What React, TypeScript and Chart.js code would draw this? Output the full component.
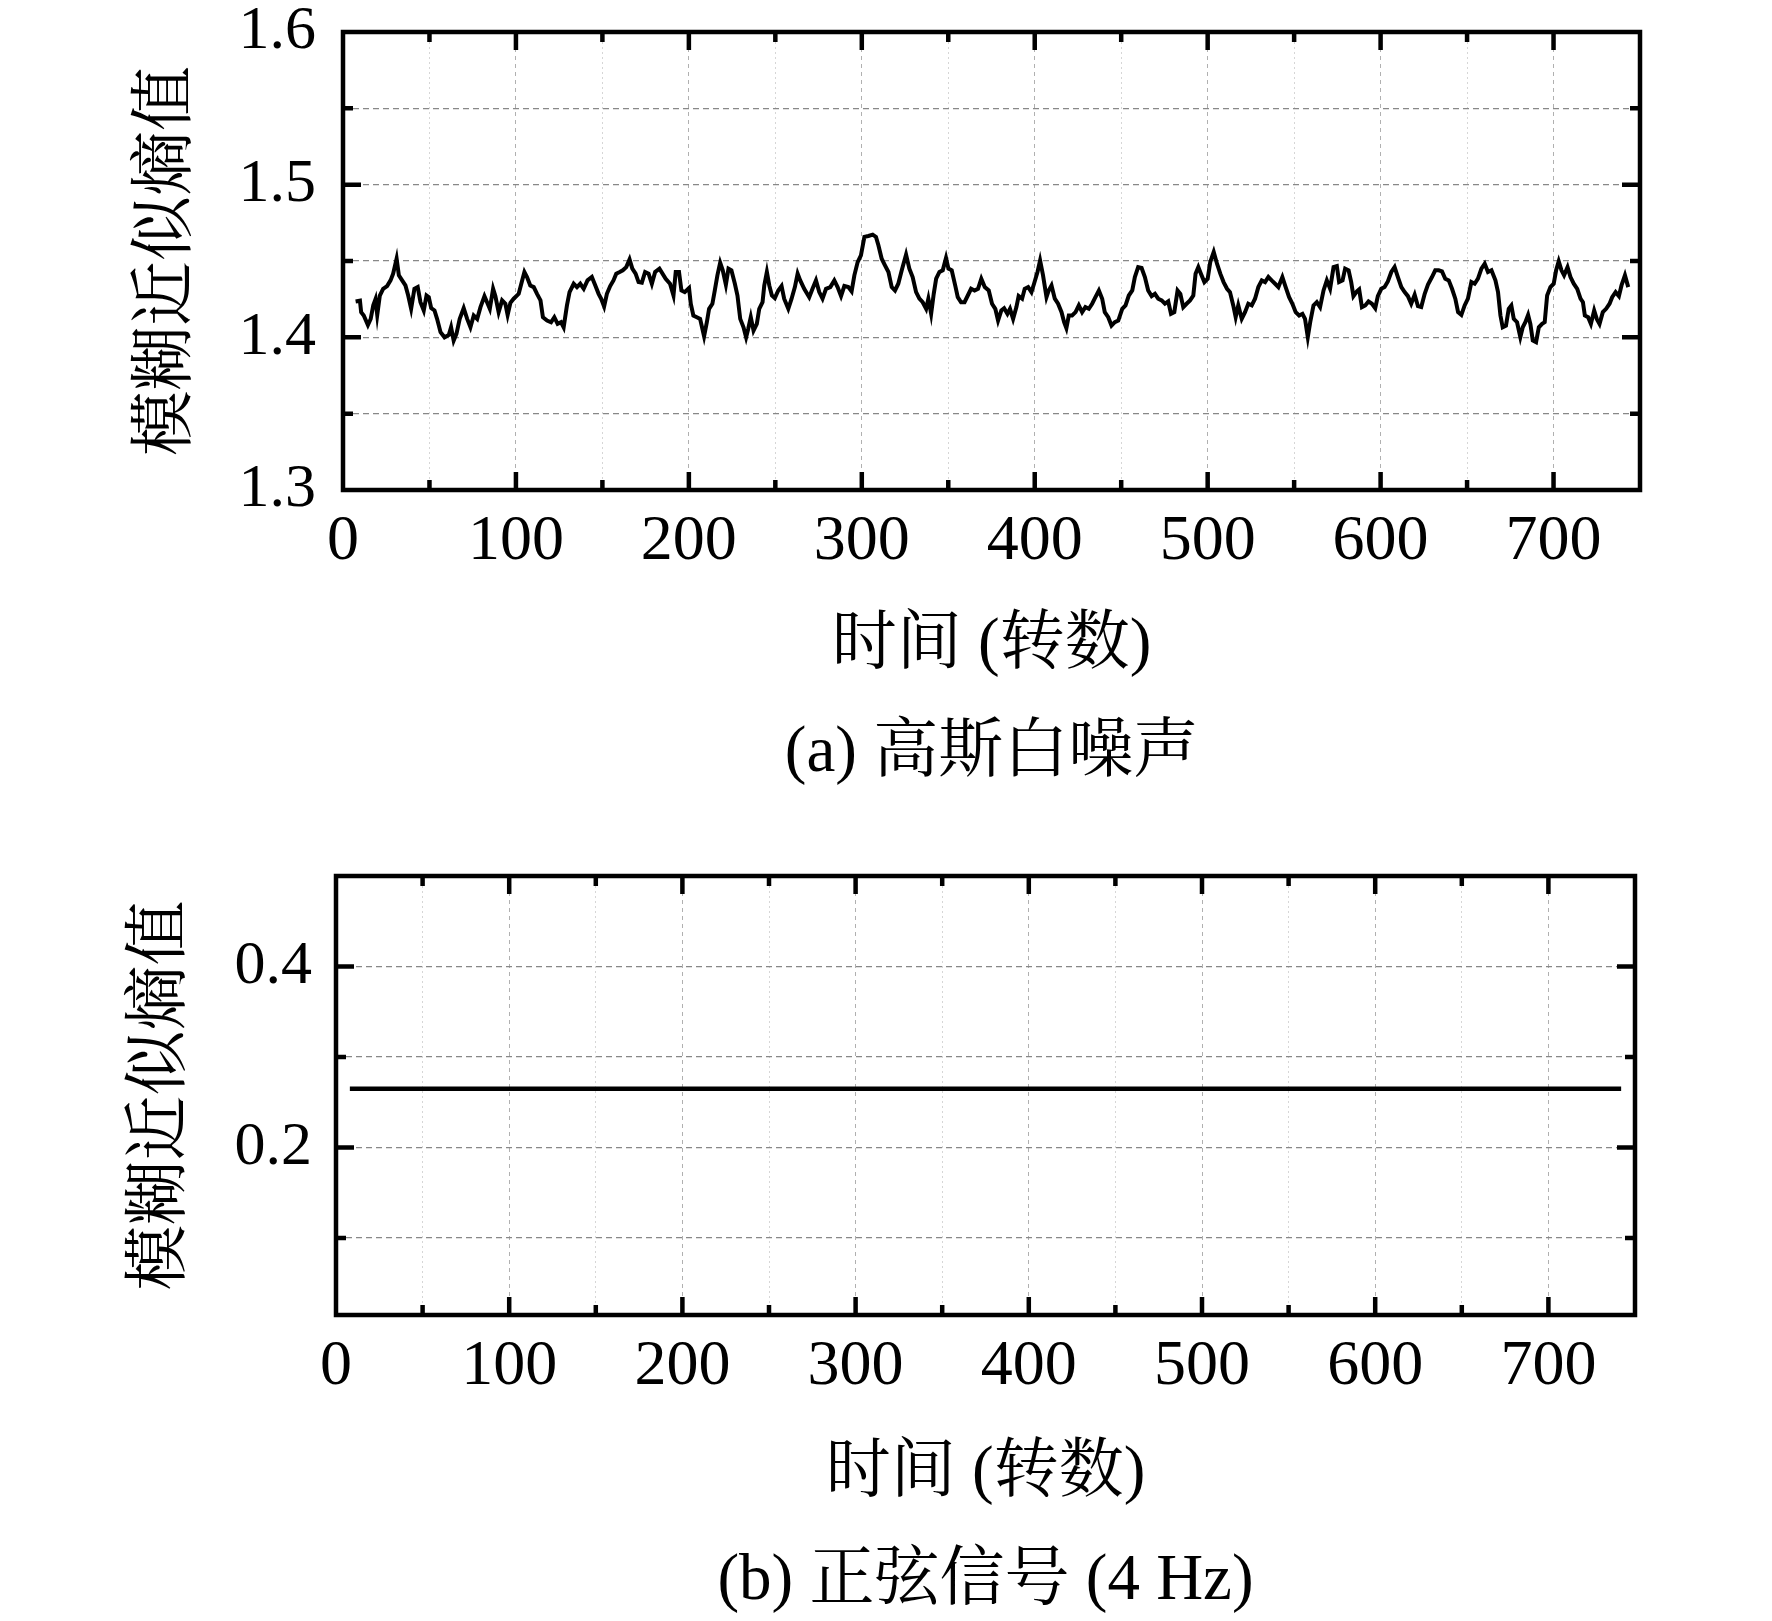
import React, { useEffect, useRef } from 'react';
import { Chart, registerables, ChartConfiguration } from 'chart.js';

Chart.register(...registerables);

const SERIF = '"Liberation Serif", "Times New Roman", "Noto Serif CJK SC", "Noto Sans CJK SC", serif';
const WIDTH = 1772;
const TICK_SIZE_X = 64;
const TICK_SIZE_Y = 62;
const TITLE_SIZE = 65;
const AXIS_H = 200;

// (a) 高斯白噪声 - time (revolutions) / fuzzy approximate entropy
const timeA = [
  7.3, 9.8, 10.5, 12, 14.4, 16, 17.5, 18.8, 19.8, 21.3, 23.2, 25.5, 27.5, 29, 31, 32.3, 34.2, 36.1, 37.7, 39.4,
  41.3, 43.2, 44.8, 46.7, 48.3, 49.6, 51, 52.9, 54.4, 56.4, 58.7, 61.2, 62.5, 64, 65.6, 67.5, 69.8, 71.8, 73.7, 75.6,
  77.6, 79.5, 81.8, 83.3, 84.9, 86.8, 88.1, 90, 92, 93.9, 95.2, 96.8, 98.7, 101.6, 103.1, 104.9, 106.4, 108.3, 110.3, 112.2,
  114.2, 115.6, 118, 120.3, 122.2, 124.1, 126.1, 127.6, 129.5, 131, 133.4, 135.3, 137.2, 139.2, 141.4, 143.9, 145.9, 147.8, 149.3, 151,
  152.6, 154.5, 156.4, 158, 160, 161.8, 163.8, 165.7, 167.3, 169.2, 170.9, 172.8, 174.7, 176.7, 178.6, 180.5, 183, 186.6, 189.1, 191.1,
  192.4, 194.3, 195.7, 197.6, 200.1, 201.1, 202.6, 204.6, 206.5, 208.8, 210.4, 211.7, 213.6, 215, 216.5, 218.1, 219.6, 221.4, 222.9, 224.6,
  226.6, 228.1, 229.7, 231.6, 233.1, 234.3, 235.8, 237.4, 239.3, 240.7, 242.6, 243.6, 245.1, 246.5, 248, 249.7, 251.7, 253.6, 255.1, 257.5,
  259.4, 261.3, 262.9, 264.4, 266.7, 269.6, 271.5, 273.5, 275.4, 277.3, 279.3, 281.8, 284.1, 286, 288, 289.9, 292.2, 294.1, 295.7, 297.6,
  299.5, 301.5, 303.8, 306.3, 308.2, 309.6, 311.5, 313.4, 315.4, 317.3, 319.2, 321.1, 323.1, 325.6, 327.5, 329.4, 331.4, 333.3, 335.2, 337.2,
  338.5, 340.1, 341.6, 343, 344.9, 346.8, 348.7, 350.1, 352, 354, 355.5, 357.4, 359.4, 361.3, 363.2, 365.2, 367.2, 369.1, 371.1, 373.4,
  375.3, 377.2, 378.8, 380.7, 382.3, 384.2, 385.7, 387.5, 389.4, 390.7, 392.7, 394.2, 396.2, 398.1, 399.6, 401.6, 403.1, 404.8, 406.8, 408.1,
  409.7, 411.6, 413.5, 415.5, 417, 418.3, 419.7, 421.6, 423.6, 425.5, 427.4, 429.3, 431.3, 433.2, 435.1, 437.1, 439, 440.5, 442.5, 444.4,
  446.3, 448.3, 450.6, 452.5, 454.4, 456.4, 457.9, 459.8, 461.8, 463.7, 465.6, 467.6, 469.5, 471.4, 473.4, 475.3, 477.2, 478.8, 480.7, 482.6,
  484.2, 485.9, 487.8, 489.8, 491.7, 493, 494.6, 496.1, 498.1, 500, 501.5, 503.5, 505.4, 507.3, 509.2, 511.2, 512.9, 514.8, 516.2, 517.7,
  519.7, 521.6, 523.5, 525.5, 527.4, 529.3, 531.3, 533.2, 535.1, 537, 539, 540.9, 543.2, 545.1, 547.1, 549, 550.9, 552.9, 554.8, 556.3,
  557.9, 559.3, 561.2, 563.1, 565, 567, 568.9, 570.8, 572.8, 574.7, 576, 578, 579.5, 581.5, 583, 584.3, 586.3, 587.6, 589.2, 591.1,
  593, 595, 596.9, 598.4, 600.4, 602.3, 604.2, 606.2, 608.1, 610, 612, 613.9, 615.8, 617.7, 619.7, 621.6, 623.5, 625.5, 627.4, 629.7,
  631.6, 633.6, 635.5, 637.4, 639.4, 641.3, 643.2, 644.8, 646.7, 648.6, 650.5, 652.5, 654.4, 656.3, 658.3, 660.2, 662.1, 664.1, 666.4, 667.9,
  669.3, 670.6, 672.5, 674.1, 675.6, 677, 678.9, 680.8, 682.2, 683.7, 685.3, 686.6, 688, 689.9, 691.5, 693.4, 694.9, 696.3, 698.2, 700.1,
  701.5, 703, 704.6, 706.1, 708.1, 709.8, 711.7, 713.7, 715.6, 717, 718.1, 720, 721.6, 723.5, 725, 726.6, 728.5, 730.4, 732.4, 733.9,
  735.9, 737.8, 739.3, 741.3, 743.2,
];
const entropyA = [
  1.4235, 1.424, 1.4165, 1.4143, 1.408, 1.412, 1.421, 1.425, 1.4147, 1.4274, 1.4318, 1.4336, 1.4373, 1.4417, 1.4515, 1.4406, 1.4373, 1.434, 1.4274, 1.4187,
  1.4318, 1.4329, 1.423, 1.4176, 1.4274, 1.4263, 1.4191, 1.4176, 1.4121, 1.4034, 1.4, 1.4016, 1.4066, 1.3979, 1.4023, 1.4121, 1.4191, 1.4121, 1.4066, 1.4143,
  1.4121, 1.4198, 1.427, 1.423, 1.4187, 1.4318, 1.427, 1.4165, 1.4242, 1.422, 1.4147, 1.4226, 1.4253, 1.4285, 1.4351, 1.4428, 1.4395, 1.434, 1.4329, 1.4285,
  1.4242, 1.4132, 1.411, 1.4099, 1.4132, 1.4088, 1.4099, 1.4066, 1.4209, 1.4296, 1.4351, 1.4329, 1.4351, 1.4318, 1.4373, 1.4395, 1.434, 1.4285, 1.4253, 1.4202,
  1.4285, 1.4336, 1.4373, 1.4417, 1.4428, 1.4439, 1.446, 1.4511, 1.445, 1.4417, 1.4362, 1.4358, 1.4428, 1.4417, 1.4351, 1.4428, 1.445, 1.4384, 1.4351, 1.4274,
  1.4428, 1.4428, 1.4307, 1.4296, 1.4323, 1.422, 1.4143, 1.4132, 1.4121, 1.4007, 1.4099, 1.4187, 1.422, 1.4307, 1.4406, 1.4489, 1.4439, 1.4345, 1.445, 1.4439,
  1.4351, 1.4274, 1.4121, 1.4066, 1.4, 1.4055, 1.4132, 1.4044, 1.4088, 1.4187, 1.423, 1.434, 1.4428, 1.434, 1.4274, 1.4257, 1.4307, 1.4336, 1.4253, 1.4187,
  1.4253, 1.4329, 1.4417, 1.4373, 1.4318, 1.4263, 1.4318, 1.4373, 1.4296, 1.4253, 1.4318, 1.4329, 1.4373, 1.4329, 1.427, 1.4336, 1.4329, 1.4301, 1.4406, 1.4493,
  1.4537, 1.4658, 1.4664, 1.4673, 1.4658, 1.4603, 1.4515, 1.4472, 1.4428, 1.4329, 1.4307, 1.4351, 1.4439, 1.4542, 1.445, 1.4395, 1.4296, 1.4253, 1.423, 1.4187,
  1.4253, 1.4154, 1.4285, 1.4384, 1.4428, 1.4439, 1.452, 1.445, 1.4439, 1.434, 1.4263, 1.423, 1.423, 1.4274, 1.4318, 1.4307, 1.4318, 1.4384, 1.4329, 1.4307,
  1.422, 1.4187, 1.411, 1.4176, 1.4191, 1.4154, 1.4187, 1.4121, 1.4198, 1.427, 1.4253, 1.4318, 1.4329, 1.4296, 1.4351, 1.4428, 1.4504, 1.4406, 1.4263, 1.4307,
  1.434, 1.4253, 1.422, 1.4165, 1.4099, 1.406, 1.4143, 1.4143, 1.4165, 1.4209, 1.4165, 1.4198, 1.4187, 1.422, 1.4263, 1.4307, 1.4253, 1.4165, 1.4132, 1.4077,
  1.4099, 1.411, 1.4187, 1.4209, 1.4274, 1.4307, 1.4395, 1.446, 1.4454, 1.4395, 1.4307, 1.427, 1.4285, 1.4253, 1.4242, 1.422, 1.4235, 1.4154, 1.4165, 1.4307,
  1.4285, 1.4198, 1.422, 1.4242, 1.4274, 1.4417, 1.446, 1.4417, 1.4362, 1.4384, 1.4493, 1.4559, 1.4482, 1.4417, 1.4362, 1.4318, 1.4296, 1.4209, 1.4132, 1.4209,
  1.4121, 1.4165, 1.422, 1.4209, 1.4253, 1.4329, 1.4373, 1.4362, 1.4395, 1.4373, 1.4351, 1.4329, 1.4395, 1.4329, 1.4263, 1.422, 1.4165, 1.4143, 1.4154, 1.4121,
  1.4001, 1.4099, 1.4209, 1.423, 1.4198, 1.4307, 1.4373, 1.4318, 1.446, 1.4467, 1.4362, 1.4373, 1.445, 1.4439, 1.4362, 1.427, 1.4301, 1.4314, 1.4198, 1.4209,
  1.4235, 1.422, 1.4191, 1.427, 1.4318, 1.4329, 1.4366, 1.4428, 1.446, 1.4395, 1.4329, 1.4296, 1.427, 1.422, 1.4279, 1.4204, 1.4198, 1.4285, 1.4345, 1.4395,
  1.4439, 1.4439, 1.4432, 1.4384, 1.4373, 1.4318, 1.4253, 1.4165, 1.4147, 1.4209, 1.4253, 1.4362, 1.4351, 1.4384, 1.445, 1.4482, 1.4428, 1.4439, 1.4373, 1.4296,
  1.4143, 1.4066, 1.4077, 1.4187, 1.4209, 1.4121, 1.4099, 1.4001, 1.4066, 1.4099, 1.4147, 1.4088, 1.3979, 1.3968, 1.4066, 1.4088, 1.4099, 1.4274, 1.4329, 1.4351,
  1.4439, 1.4498, 1.4439, 1.4406, 1.446, 1.4395, 1.4351, 1.4318, 1.4253, 1.423, 1.4143, 1.4132, 1.4088, 1.4176, 1.4121, 1.4088, 1.4165, 1.4187, 1.422, 1.4263,
  1.4296, 1.427, 1.434, 1.4406, 1.4329,
];
const yTicksA = [1.3, 1.35, 1.4, 1.45, 1.5, 1.55, 1.6];
const yLabelsA = [1.3, 1.4, 1.5, 1.6];

// (b) 正弦信号 (4 Hz) - flat entropy
const timeB = [8, 742];
const entropyB = [0.265, 0.265];
const yTicksB = [0.1, 0.2, 0.3, 0.4];
const yLabelsB = [0.2, 0.4];

// shared x axis
const xTicks = [0, 50, 100, 150, 200, 250, 300, 350, 400, 450, 500, 550, 600, 650, 700, 750];
const xLabels = [0, 100, 200, 300, 400, 500, 600, 700];

const has = (list: number[], v: number) => list.some((l) => Math.abs(l - v) < 1e-9);

// box frame + inward tick marks on all four sides
const frameTicks = {
  id: 'frameTicks',
  afterDraw(chart: any, _args: any, opts: any) {
    const { ctx, chartArea, scales } = chart;
    const { left, right, top, bottom } = chartArea;
    const sx = scales.x;
    const sy = scales.y;
    ctx.save();
    ctx.strokeStyle = '#000';
    ctx.lineWidth = 4.5;
    ctx.beginPath();
    for (const t of sx.ticks) {
      if (t.value <= sx.min || t.value >= sx.max) continue;
      const px = sx.getPixelForValue(t.value);
      const len = has(opts.xMajor, t.value) ? 18 : 10;
      ctx.moveTo(px, bottom);
      ctx.lineTo(px, bottom - len);
      ctx.moveTo(px, top);
      ctx.lineTo(px, top + len);
    }
    for (const t of sy.ticks) {
      if (t.value <= sy.min || t.value >= sy.max) continue;
      const py = sy.getPixelForValue(t.value);
      const len = has(opts.yMajor, t.value) ? 18 : 10;
      ctx.moveTo(left, py);
      ctx.lineTo(left + len, py);
      ctx.moveTo(right, py);
      ctx.lineTo(right - len, py);
    }
    ctx.stroke();
    ctx.strokeRect(left, top, right - left, bottom - top);
    ctx.restore();
  },
};

interface PanelProps {
  time: number[];
  entropy: number[];
  yMin: number;
  yMax: number;
  yTicks: number[];
  yLabels: number[];
  caption: string;
  height: number;
  area: { left: number; top: number; right: number; bottom: number };
  xTitleY: number;
  captionY: number;
  yTitleX: number;
  yLabelGap: number;
  lineWidth: number;
}

const Panel: React.FC<PanelProps> = (p) => {
  const canvasRef = useRef<HTMLCanvasElement>(null);

  useEffect(() => {
    const lh = TITLE_SIZE * 1.2;
    const xTitlePad = AXIS_H - (p.xTitleY - p.area.bottom) - lh / 2;
    const capPad = p.captionY - (p.area.bottom + AXIS_H) - lh / 2;
    const bottomPad = Math.max(p.height - (p.area.bottom + AXIS_H + capPad + lh), 0);
    const titleFont = { family: SERIF, size: TITLE_SIZE, weight: 'normal' as const, lineHeight: 1.2 };

    const config: ChartConfiguration<'line'> = {
      type: 'line',
      data: {
        datasets: [
          {
            data: p.time.map((t, i) => ({ x: t, y: p.entropy[i] })),
            borderColor: '#000',
            borderWidth: p.lineWidth,
            pointRadius: 0,
            tension: 0,
            fill: false,
          },
        ],
      },
      options: {
        responsive: false,
        animation: false,
        layout: { padding: { left: 0, top: p.area.top, right: WIDTH - p.area.right, bottom: bottomPad } },
        plugins: {
          legend: { display: false },
          tooltip: { enabled: false },
          title: {
            display: true,
            text: p.caption,
            position: 'bottom',
            fullSize: false,
            color: '#000',
            font: titleFont,
            padding: { top: capPad, bottom: 0 },
          },
          // @ts-ignore
          frameTicks: { xMajor: xLabels, yMajor: p.yLabels },
        },
        scales: {
          x: {
            type: 'linear',
            min: 0,
            max: 750,
            afterBuildTicks: (s: any) => {
              s.ticks = xTicks.map((value) => ({ value }));
            },
            afterFit: (s: any) => {
              s.height = AXIS_H;
            },
            ticks: {
              autoSkip: false,
              maxRotation: 0,
              padding: 0,
              color: '#000',
              font: { family: SERIF, size: TICK_SIZE_X, lineHeight: 1.2 },
              callback: (v: any) => (has(xLabels, Number(v)) ? String(v) : ''),
            },
            grid: {
              drawTicks: true,
              tickLength: 14,
              tickColor: 'rgba(0,0,0,0)',
              lineWidth: 1,
              color: (c: any) => (has(xLabels, c.tick?.value) ? '#b0b0b0' : '#d6d6d6'),
            },
            border: {
              display: false,
              dash: (c: any) => (has(xLabels, c.tick?.value) ? [4, 4] : [2, 3]),
            },
            title: {
              display: true,
              text: '时间 (转数)',
              color: '#000',
              font: titleFont,
              padding: { top: 0, bottom: xTitlePad },
            },
          },
          y: {
            type: 'linear',
            min: p.yMin,
            max: p.yMax,
            afterBuildTicks: (s: any) => {
              s.ticks = p.yTicks.map((value) => ({ value }));
            },
            afterFit: (s: any) => {
              s.width = p.area.left;
            },
            ticks: {
              autoSkip: false,
              padding: 0,
              color: '#000',
              font: { family: SERIF, size: TICK_SIZE_Y, lineHeight: 1 },
              callback: (v: any) => (has(p.yLabels, Number(v)) ? Number(v).toFixed(1) : ''),
            },
            grid: {
              drawTicks: true,
              tickLength: p.yLabelGap,
              tickColor: 'rgba(0,0,0,0)',
              lineWidth: 1.3,
              color: '#888888',
            },
            border: { display: false, dash: [6, 4] },
            title: {
              display: true,
              text: '模糊近似熵值',
              color: '#000',
              font: titleFont,
              padding: { top: p.yTitleX - lh / 2, bottom: 0 },
            },
          },
        },
      },
      plugins: [frameTicks],
    };

    const chart = new Chart(canvasRef.current!, config);
    return () => {
      chart.destroy();
    };
  }, []);

  return <canvas ref={canvasRef} width={WIDTH} height={p.height} style={{ display: 'block', width: WIDTH, height: p.height }} />;
};

export default function App() {
  return (
    <div style={{ position: 'absolute', left: 0, top: 0, width: WIDTH, height: 1621, background: '#fff' }}>
      <Panel
        time={timeA}
        entropy={entropyA}
        yMin={1.3}
        yMax={1.6}
        yTicks={yTicksA}
        yLabels={yLabelsA}
        caption="(a) 高斯白噪声"
        height={810}
        area={{ left: 343, top: 32, right: 1640, bottom: 490 }}
        xTitleY={646}
        captionY={754}
        yTitleX={168}
        yLabelGap={27}
        lineWidth={4}
      />
      <Panel
        time={timeB}
        entropy={entropyB}
        yMin={0.015}
        yMax={0.5}
        yTicks={yTicksB}
        yLabels={yLabelsB}
        caption="(b) 正弦信号 (4 Hz)"
        height={811}
        area={{ left: 336, top: 66, right: 1635, bottom: 505 }}
        xTitleY={664}
        captionY={772}
        yTitleX={162}
        yLabelGap={24}
        lineWidth={4.5}
      />
    </div>
  );
}
